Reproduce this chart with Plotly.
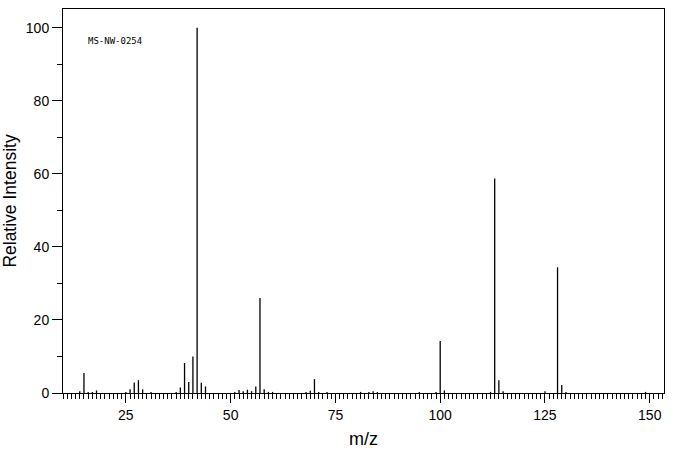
import plotly.graph_objects as go

mz = [14, 15, 16, 17, 18, 25, 26, 27, 28, 29, 31, 37, 38, 39, 40, 41, 42, 43, 44,
      51, 52, 53, 54, 55, 56, 57, 58, 59, 60, 68, 69, 70, 71, 73, 81, 83, 84, 85,
      95, 99, 100, 101, 112, 113, 114, 115, 125, 128, 129, 130, 149]
intensity = [0.5, 5.5, 0.3, 0.3, 0.7, 0.3, 1.0, 2.9, 3.5, 1.0, 0.3, 0.3, 1.5, 8.2, 3.0, 10.0, 100.0, 2.8, 1.8,
             0.3, 0.8, 0.5, 0.9, 0.5, 1.8, 26.0, 1.0, 0.3, 0.3, 0.3, 0.6, 3.8, 0.3, 0.3, 0.3, 0.3, 0.5, 0.3,
             0.3, 0.3, 14.2, 0.7, 0.3, 58.7, 3.5, 0.5, 0.5, 34.4, 2.2, 0.3, 0.3]
x_ticks = [25, 50, 75, 100, 125, 150]
y_ticks = [0, 20, 40, 60, 80, 100]
label = "MS-NW-0254"

xs, ys = [], []
for m, v in zip(mz, intensity):
    xs += [m, m, None]
    ys += [0, v, None]

fig = go.Figure()
fig.add_trace(go.Scatter(x=xs, y=ys, mode="lines",
                         line=dict(color="black", width=1.3), hoverinfo="skip",
                         showlegend=False))

font_main = "Liberation Sans, DejaVu Sans, sans-serif"
fig.update_layout(
    width=676, height=455,
    margin=dict(l=63, r=12, t=9, b=62, autoexpand=False),
    paper_bgcolor="white", plot_bgcolor="white",
    font=dict(family=font_main, color="black", size=14),
    annotations=[dict(text=label, xref="paper", yref="paper", x=0.038, y=0.917,
                      xanchor="left", yanchor="middle", showarrow=False,
                      font=dict(family="DejaVu Sans Mono", size=9, color="black"))],
)
fig.update_xaxes(
    automargin=False,
    range=[10, 153.4], tickvals=x_ticks, ticktext=[str(t) for t in x_ticks],
    ticks="outside", ticklen=9, tickwidth=1, tickcolor="black",
    showgrid=False, zeroline=False,
    showline=True, linecolor="black", linewidth=1, mirror=True,
    minor=dict(dtick=1, tick0=0, ticks="outside", ticklen=5, tickwidth=1, tickcolor="black", showgrid=False),
    title=dict(text="m/z", font=dict(size=18, family=font_main), standoff=10),
    tickfont=dict(size=14),
)
fig.update_yaxes(
    automargin=False,
    range=[0, 105.1], tickvals=y_ticks, ticktext=[str(t) for t in y_ticks],
    ticks="outside", ticklen=10, tickwidth=1, tickcolor="black",
    showgrid=False, zeroline=False,
    showline=True, linecolor="black", linewidth=1, mirror=True,
    minor=dict(dtick=10, tick0=0, ticks="outside", ticklen=5, tickwidth=1, tickcolor="black", showgrid=False),
    title=dict(text="Relative Intensity", font=dict(size=17.5, family=font_main), standoff=5),
    tickfont=dict(size=14),
)
fig.write_html("out.html", config={"displayModeBar": False, "staticPlot": True},
               post_script="document.body.style.margin='0';document.body.style.overflow='hidden';")
